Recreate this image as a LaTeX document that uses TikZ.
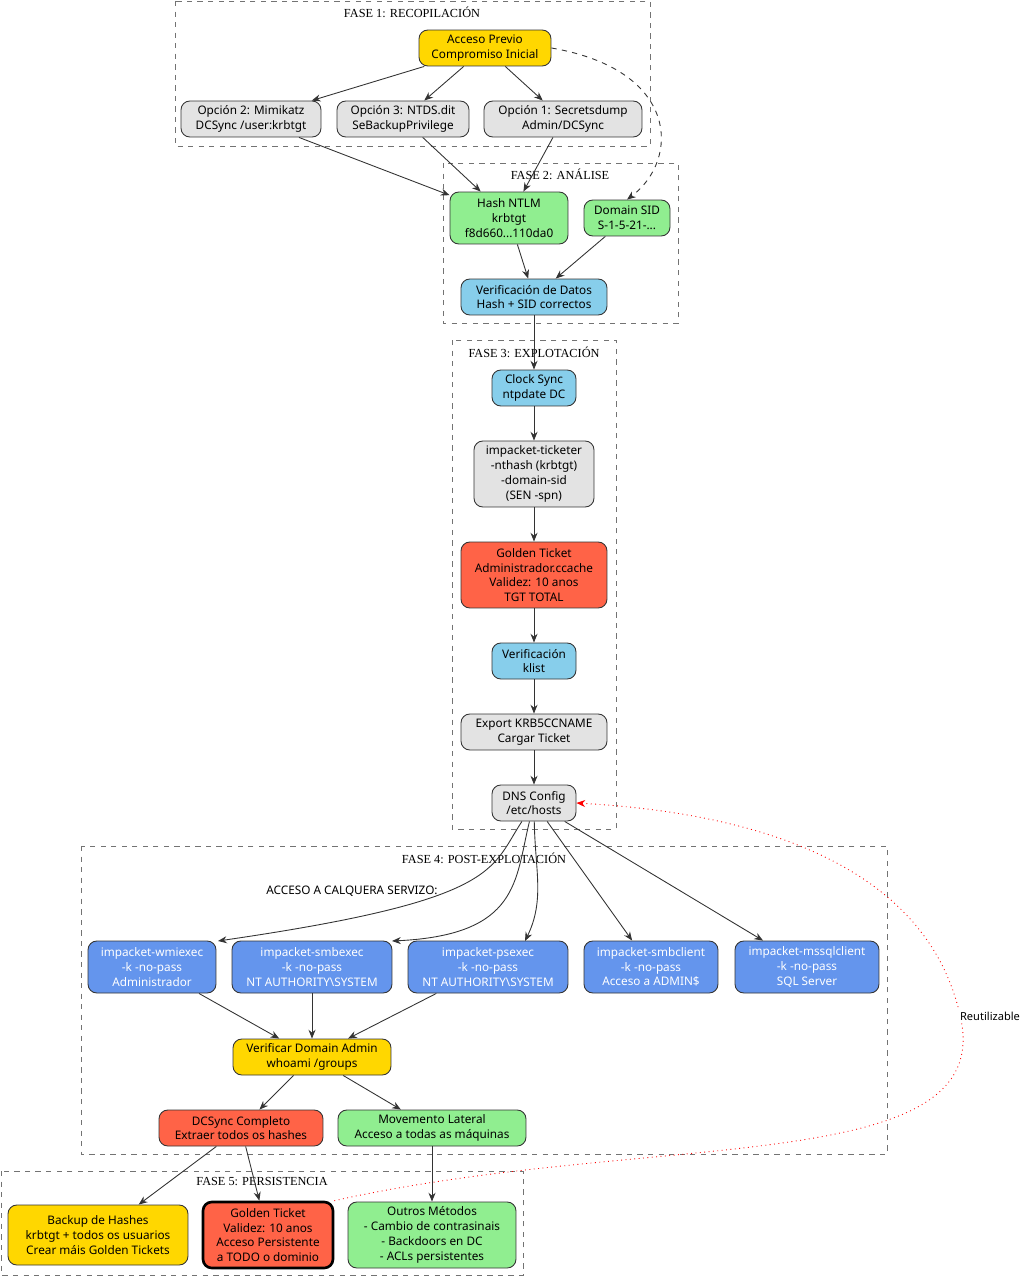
\documentclass[tikz,border=0pt]{standalone}
\usepackage{fontspec}
\setmainfont{Noto Sans}
\newfontfamily\clfont{Liberation Serif}
\usetikzlibrary{arrows.meta}
\definecolor{cgold}{HTML}{FFD700}
\definecolor{cgray}{HTML}{E3E3E3}
\definecolor{cgreen}{HTML}{90EE90}
\definecolor{csky}{HTML}{87CEEB}
\definecolor{ctom}{HTML}{FF6347}
\definecolor{cblue}{HTML}{6495ED}
\begin{document}
\begin{tikzpicture}[x=0.02cm,y=-0.02cm,
  box/.style={draw=black!80,rounded corners=5pt,align=center,inner sep=1pt,
    font=\fontsize{6.7}{8.4}\selectfont,minimum height=0.72cm},
  gold/.style={box,fill=cgold}, gray/.style={box,fill=cgray},
  green/.style={box,fill=cgreen}, sky/.style={box,fill=csky},
  tom/.style={box,fill=ctom}, blu/.style={box,fill=cblue,text=white},
  clus/.style={draw=black!55,dashed},
  cl/.style={font=\clfont\fontsize{7}{8}\selectfont},
  every path/.append style={line width=0.5pt},
  arr/.style={-{Stealth[length=5pt,width=4pt]},black!80}]
\useasboundingbox (0,0) rectangle (1019,1277);
% clusters
\draw[clus] (175,1) rectangle (650,146);
\node[cl] at (412,12) {FASE 1: RECOPILACIÓN};
\draw[clus] (443,163) rectangle (678,323);
\node[cl] at (560,174) {FASE 2: ANÁLISE};
\draw[clus] (452,340) rectangle (616,829);
\node[cl] at (534,352) {FASE 3: EXPLOTACIÓN};
\draw[clus] (81,846) rectangle (887,1154);
\node[cl] at (484,858) {FASE 4: POST-EXPLOTACIÓN};
\draw[clus] (1,1171) rectangle (523,1275);
\node[cl] at (262,1182) {FASE 5: PERSISTENCIA};
\node[font=\fontsize{6.7}{8}\selectfont] (servizo) at (352,891) {ACCESO A CALQUERA SERVIZO:};
% nodes
\node[gold,minimum width=2.64cm] (previo) at (485,48) {Acceso Previo\\Compromiso Inicial};
\node[gray,minimum width=2.8cm] (mimi) at (251,119) {Opción 2: Mimikatz\\DCSync /user:krbtgt};
\node[gray,minimum width=2.64cm] (ntds) at (403,119) {Opción 3: NTDS.dit\\SeBackupPrivilege};
\node[gray,minimum width=3.16cm] (secr) at (563,119) {Opción 1: Secretsdump\\Admin/DCSync};
\node[green,minimum width=2.36cm,minimum height=1.04cm] (hash) at (509,218) {Hash NTLM\\krbtgt\\f8d660...110da0};
\node[green,minimum width=1.72cm] (sid) at (627,218) {Domain SID\\S-1-5-21-...};
\node[sky,minimum width=2.92cm] (verif) at (534,297) {Verificación de Datos\\Hash + SID correctos};
\node[sky,minimum width=1.68cm] (clock) at (534,388) {Clock Sync\\ntpdate DC};
\node[gray,minimum width=2.4cm,minimum height=1.32cm] (ticketer) at (534,474) {impacket-ticketer\\-nthash (krbtgt)\\-domain-sid\\(SEN -spn)};
\node[tom,minimum width=2.92cm,minimum height=1.32cm] (golden) at (534,575) {Golden Ticket\\Administrador.ccache\\Validez: 10 anos\\TGT TOTAL};
\node[sky,minimum width=1.68cm] (klist) at (534,661) {Verificación\\klist};
\node[gray,minimum width=2.92cm] (export) at (534,732) {Export KRB5CCNAME\\Cargar Ticket};
\node[gray,minimum width=1.68cm] (dns) at (534,803) {DNS Config\\/etc/hosts};
\node[blu,minimum width=2.56cm,minimum height=1.04cm] (wmi) at (152,967) {impacket-wmiexec\\-k -no-pass\\Administrador};
\node[blu,minimum width=3.2cm,minimum height=1.04cm] (smbexec) at (312,967) {impacket-smbexec\\-k -no-pass\\NT AUTHORITY\textbackslash SYSTEM};
\node[blu,minimum width=3.2cm,minimum height=1.04cm] (psexec) at (488,967) {impacket-psexec\\-k -no-pass\\NT AUTHORITY\textbackslash SYSTEM};
\node[blu,minimum width=2.68cm,minimum height=1.04cm] (smbclient) at (651,967) {impacket-smbclient\\-k -no-pass\\Acceso a ADMIN\$};
\node[blu,minimum width=2.88cm,minimum height=1.04cm] (mssql) at (807,967) {impacket-mssqlclient\\-k -no-pass\\SQL Server};
\node[gold,minimum width=3.16cm] (verda) at (312,1057) {Verificar Domain Admin\\whoami /groups};
\node[tom,minimum width=3.28cm] (dcsync) at (241,1128) {DCSync Completo\\Extraer todos os hashes};
\node[green,minimum width=3.76cm] (movlat) at (432,1128) {Movemento Lateral\\Acceso a todas as máquinas};
\node[gold,minimum width=3.6cm,minimum height=1.2cm] (backup) at (98,1235) {Backup de Hashes\\krbtgt + todos os usuarios\\Crear máis Golden Tickets};
\node[tom,minimum width=2.6cm,minimum height=1.32cm,line width=1.5pt,draw=black] (golden2) at (268,1235) {Golden Ticket\\Validez: 10 anos\\Acceso Persistente\\a TODO o dominio};
\node[green,minimum width=3.36cm,minimum height=1.32cm] (outros) at (432,1235) {Outros Métodos\\- Cambio de contrasinais\\- Backdoors en DC\\- ACLs persistentes};
% edges
\draw[arr] (previo) -- (mimi);
\draw[arr] (previo) -- (ntds);
\draw[arr] (previo) -- (secr);
\draw[arr,dashed] (previo.east) .. controls (680,70) and (680,160) .. (sid.north);
\draw[arr] (mimi) -- (hash);
\draw[arr] (ntds) -- (hash);
\draw[arr] (secr) -- (hash);
\draw[arr] (hash) -- (verif);
\draw[arr] (sid) -- (verif);
\draw[arr] (verif) -- (clock);
\draw[arr] (clock) -- (ticketer);
\draw[arr] (ticketer) -- (golden);
\draw[arr] (golden) -- (klist);
\draw[arr] (klist) -- (export);
\draw[arr] (export) -- (dns);
\draw[arr] (dns) .. controls (490,870) and (500,900) .. (218,941);
\draw[arr] (dns) .. controls (515,880) and (520,935) .. (392,941);
\draw[arr] (dns) .. controls (535,870) and (545,900) .. (525,941);
\draw[arr] (dns) -- (smbclient);
\draw[arr] (dns) -- (mssql);
\draw[arr] (wmi) -- (verda);
\draw[arr] (smbexec) -- (verda);
\draw[arr] (psexec) -- (verda);
\draw[arr] (verda) -- (dcsync);
\draw[arr] (verda) -- (movlat);
\draw[arr] (dcsync) -- (backup);
\draw[arr] (dcsync) -- (golden2);
\draw[arr] (movlat) -- (outros);
\draw[-{Stealth[length=5pt,width=4pt]},red,dotted] (golden2.north east) .. controls (650,1130) and (1000,1180) .. (960,1015)
  .. controls (920,840) and (700,810) .. (dns.east);
\node[font=\fontsize{6.3}{7}\selectfont,fill=white,inner sep=1pt] (reut) at (990,1016) {Reutilizable};
\end{tikzpicture}
\end{document}
